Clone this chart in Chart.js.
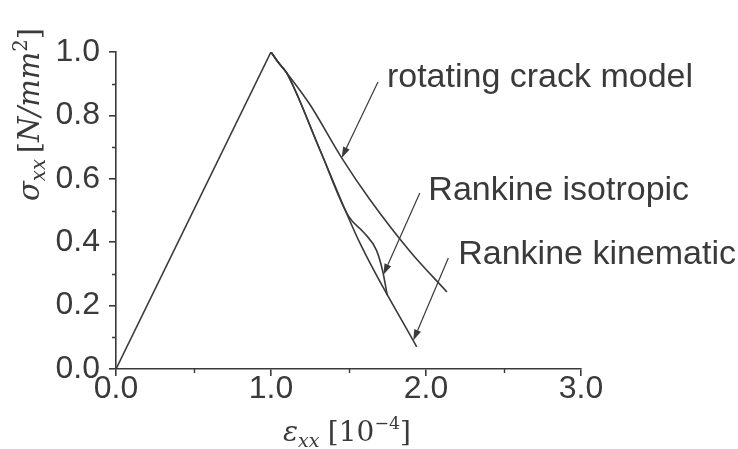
<!DOCTYPE html>
<html>
<head>
<meta charset="utf-8">
<script src="https://cdn.jsdelivr.net/npm/chart.js@4.4.1/dist/chart.umd.min.js"></script>
<style>
  html, body { margin: 0; padding: 0; background: #ffffff; }
  #wrap { width: 738px; height: 449px; }
</style>
</head>
<body>
<div id="wrap"><canvas id="c" width="738" height="449"></canvas></div>
<script>
// Stress-strain response of a concrete bar under uniaxial tension
// Strain in units of 1e-4, stress in N/mm^2

// elastic loading branch (shared by all models)
const loadStrain = [0.0, 1.0];
const loadStress = [0.0, 1.0];

// softening branch: rotating crack model
const rotStrain = [1.0, 1.05, 1.10, 1.25, 1.456, 1.64, 1.90, 2.135];
const rotStress = [1.0, 0.965, 0.935, 0.835, 0.666, 0.533, 0.369, 0.243];

// softening branch: Rankine plasticity, kinematic hardening
const kinStrain = [1.0, 1.05, 1.10, 1.316, 1.574, 1.94];
const kinStress = [1.0, 0.965, 0.935, 0.691, 0.397, 0.070];

// softening branch: Rankine plasticity, isotropic hardening
const isoStrain = [1.0, 1.05, 1.10, 1.316, 1.50, 1.60, 1.68, 1.72, 1.75];
const isoStress = [1.0, 0.965, 0.935, 0.691, 0.482, 0.430, 0.375, 0.310, 0.233];

// axis ticks
const xTicks = [0.0, 1.0, 2.0, 3.0];
const yTicks = [0.0, 0.2, 0.4, 0.6, 0.8, 1.0];
const xMinor = [0.5, 1.5, 2.5];
const yMinor = [0.1, 0.3, 0.5, 0.7, 0.9];

// curve labels
const labelTexts = ['rotating crack model', 'Rankine isotropic', 'Rankine kinematic'];

const INK = '#3a3a3a';
const SANS = '"Liberation Sans", Arial, Helvetica, sans-serif';
const SERIF = '"DejaVu Serif", "Liberation Serif", serif';

function pts(xs, ys) { return xs.map((x, i) => ({ x: x, y: ys[i] })); }

// linear lookup of a curve's stress at a given strain
function stressAt(xs, ys, x) {
  for (let i = 1; i < xs.length; i++) {
    if (x <= xs[i]) {
      const t = (x - xs[i - 1]) / (xs[i] - xs[i - 1]);
      return ys[i - 1] + t * (ys[i] - ys[i - 1]);
    }
  }
  return ys[ys.length - 1];
}

const curveStyle = {
  borderColor: INK, borderWidth: 1.6, pointRadius: 0, fill: false,
  showLine: true, cubicInterpolationMode: 'monotone'
};

// callouts: label anchor and arrow tail in data units, arrow tip on a curve
const callouts = [
  { text: labelTexts[0], at: [1.748, 0.890], tail: [1.69, 0.905], tipX: 1.456, xs: rotStrain, ys: rotStress },
  { text: labelTexts[1], at: [2.015, 0.533], tail: [1.960, 0.555], tipX: 1.725, xs: isoStrain, ys: isoStress },
  { text: labelTexts[2], at: [2.208, 0.330], tail: [2.144, 0.350], tipX: 1.918, xs: kinStrain, ys: kinStress }
];

function drawRich(ctx, segs, size, family) {
  let x = 0;
  for (const s of segs) {
    const fs = size * (s.scale || 1);
    ctx.font = (s.italic ? 'italic ' : '') + fs.toFixed(1) + 'px ' + family;
    ctx.fillText(s.text, x, (s.shift || 0) * size);
    x += ctx.measureText(s.text).width + (s.gap || 0) * size;
  }
}

const decorations = {
  id: 'decorations',
  afterDraw(chart) {
    const ctx = chart.ctx;
    const xs = chart.scales.x, ys = chart.scales.y;
    const area = chart.chartArea;
    ctx.save();
    ctx.strokeStyle = INK;
    ctx.fillStyle = INK;
    ctx.lineWidth = 1.4;

    // minor ticks
    ctx.beginPath();
    for (const v of yMinor) {
      const py = Math.round(ys.getPixelForValue(v)) + 0.5;
      ctx.moveTo(area.left - 4, py); ctx.lineTo(area.left, py);
    }
    for (const v of xMinor) {
      const px = Math.round(xs.getPixelForValue(v)) + 0.5;
      ctx.moveTo(px, area.bottom); ctx.lineTo(px, area.bottom + 4);
    }
    ctx.stroke();

    // callout arrows and labels
    ctx.lineWidth = 1.2;
    for (const c of callouts) {
      const tx = xs.getPixelForValue(c.tail[0]), ty = ys.getPixelForValue(c.tail[1]);
      const hx = xs.getPixelForValue(c.tipX), hy = ys.getPixelForValue(stressAt(c.xs, c.ys, c.tipX));
      const ang = Math.atan2(hy - ty, hx - tx);
      const L = 11, W = 3.6;
      const bx = hx - L * Math.cos(ang), by = hy - L * Math.sin(ang);
      ctx.beginPath(); ctx.moveTo(tx, ty); ctx.lineTo(bx, by); ctx.stroke();
      ctx.beginPath();
      ctx.moveTo(hx, hy);
      ctx.lineTo(bx + W * Math.sin(ang), by - W * Math.cos(ang));
      ctx.lineTo(bx - W * Math.sin(ang), by + W * Math.cos(ang));
      ctx.closePath(); ctx.fill();

      ctx.font = '34px ' + SANS;
      ctx.textAlign = 'left';
      ctx.textBaseline = 'alphabetic';
      ctx.fillText(c.text, xs.getPixelForValue(c.at[0]), ys.getPixelForValue(c.at[1]));
    }

    // axis titles with sub- and superscripts
    ctx.textAlign = 'left';
    ctx.textBaseline = 'alphabetic';
    ctx.save();
    ctx.translate(39, 201);
    ctx.rotate(-Math.PI / 2);
    drawRich(ctx, [
      { text: '\u03C3', italic: true },
      { text: 'xx', italic: true, scale: 0.68, shift: 0.22, gap: 0.2 },
      { text: '[' },
      { text: 'N/mm', italic: true },
      { text: '2', scale: 0.68, shift: -0.42 },
      { text: ']' }
    ], 29, SERIF);
    ctx.restore();

    ctx.save();
    ctx.translate(283, 441);
    drawRich(ctx, [
      { text: '\u03B5', italic: true },
      { text: 'xx', italic: true, scale: 0.68, shift: 0.22, gap: 0.3 },
      { text: '[10' },
      { text: '\u22124', scale: 0.62, shift: -0.42 },
      { text: ']' }
    ], 28, SERIF);
    ctx.restore();

    ctx.restore();
  }
};

const axisCommon = {
  type: 'linear',
  border: { display: true, color: INK, width: 1.6 },
  grid: { display: true, drawOnChartArea: false, drawTicks: true, tickLength: 7, color: INK, lineWidth: 1.6 },
  ticks: { color: INK, font: { family: SANS, size: 32 }, autoSkip: false,
           callback: v => Number(v).toFixed(1) }
};

new Chart(document.getElementById('c'), {
  type: 'scatter',
  data: {
    datasets: [
      Object.assign({ label: 'elastic', data: pts(loadStrain, loadStress) }, curveStyle, { cubicInterpolationMode: 'default', tension: 0 }),
      Object.assign({ label: labelTexts[0], data: pts(rotStrain, rotStress) }, curveStyle),
      Object.assign({ label: labelTexts[1], data: pts(isoStrain, isoStress) }, curveStyle),
      Object.assign({ label: labelTexts[2], data: pts(kinStrain, kinStress) }, curveStyle)
    ]
  },
  options: {
    responsive: false,
    animation: false,
    devicePixelRatio: 1,
    layout: { padding: { left: 0, top: 52, right: 157, bottom: 0 } },
    plugins: { legend: { display: false }, tooltip: { enabled: false } },
    scales: {
      x: Object.assign({}, axisCommon, {
        min: 0, max: 3,
        ticks: Object.assign({}, axisCommon.ticks, { padding: -6 }),
        afterBuildTicks: s => { s.ticks = xTicks.map(v => ({ value: v })); },
        afterFit: s => { s.height = 80; }
      }),
      y: Object.assign({}, axisCommon, {
        min: 0, max: 1,
        ticks: Object.assign({}, axisCommon.ticks, { padding: 9 }),
        afterBuildTicks: s => { s.ticks = yTicks.map(v => ({ value: v })); },
        afterFit: s => { s.width = 116; }
      })
    }
  },
  plugins: [decorations]
});
</script>
</body>
</html>
